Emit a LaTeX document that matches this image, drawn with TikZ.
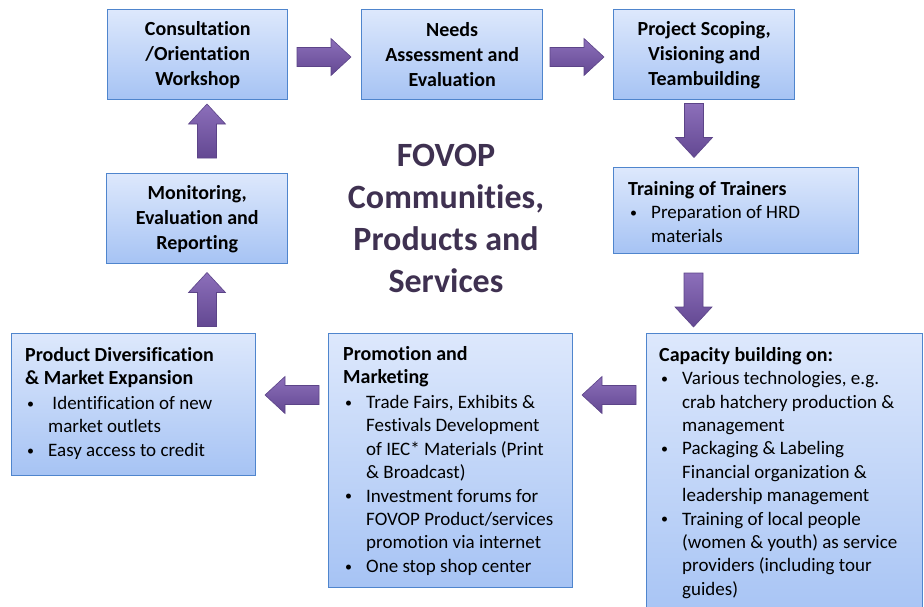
\documentclass[tikz,border=0pt]{standalone}
\usepackage{fontspec}
\setmainfont{Carlito}[Ligatures=NoCommon]
\definecolor{boxtop}{HTML}{DDE8FC}
\definecolor{boxbot}{HTML}{A6C3F4}
\definecolor{boxline}{HTML}{4F85CD}
\definecolor{arrlight}{HTML}{8C6FBA}
\definecolor{arrdark}{HTML}{634892}
\definecolor{arredge}{HTML}{5C4488}
\definecolor{titlecol}{HTML}{3F3151}
% bullet line and its continuation lines
\newcommand\bitem[1]{\makebox[23pt][l]{\hspace*{2pt}\raisebox{1.2pt}{\fontsize{14}{14}\selectfont\textbullet}}#1}
\newcommand\bcont[1]{\hspace*{23pt}#1}
\begin{document}
\begin{tikzpicture}[x=1pt,y=-1pt,
  box/.style={draw=boxline, line width=1.4pt, top color=boxtop,
    bottom color=boxbot, inner sep=0pt, anchor=north west},
  stepbox/.style={box, align=center,
    font=\bfseries\fontsize{20}{25}\selectfont},
  listtext/.style={inner sep=0pt, anchor=north west, align=left,
    font=\fontsize{19}{23.4}\selectfont},
  arrowshade/.style={top color=arrlight, bottom color=arrdark,
    draw=arredge, line width=0.6pt},
  blockarrow/.pic={
    \shade[arrowshade] (-27,-9.5) -- (7,-9.5) -- (7,-18.5) -- (27,0)
      -- (7,18.5) -- (7,9.5) -- (-27,9.5) -- cycle;
  }]
\useasboundingbox (0,0) rectangle (924,606);
\clip (0,0) rectangle (924,606);

% cycle of steps along the top
\node[stepbox, minimum width=180pt, minimum height=90pt] (b1) at (107,9)
  {Consultation\\/Orientation\\Workshop};
\node[stepbox, minimum width=181pt, minimum height=90pt] (b2) at (361,9)
  {Needs\\Assessment and\\Evaluation};
\node[stepbox, minimum width=181pt, minimum height=90pt] (b3) at (613,9)
  {Project Scoping,\\Visioning and\\Teambuilding};
\node[stepbox, minimum width=181pt, minimum height=90pt] (b8) at (106,173)
  {Monitoring,\\Evaluation and\\Reporting};

% boxes with bullet lists
\node[box, minimum width=245pt, minimum height=86pt] (b4) at (613,167) {};
\node[listtext] (t4) at ([shift={(15,13)}]b4.north west)
  {\rule{0pt}{15pt}{\bfseries\fontsize{20}{23.4}\selectfont Training of Trainers}\\
   \bitem{Preparation of HRD}\\
   \bcont{materials}};

\node[box, minimum width=276pt, minimum height=290pt] (b5) at (646,333) {};
\node[listtext] (t5) at ([shift={(13,13)}]b5.north west)
  {\rule{0pt}{15pt}{\bfseries\fontsize{20}{23.4}\selectfont Capacity building on:}\\
   \bitem{Various technologies, e.g.}\\
   \bcont{crab hatchery production \&}\\
   \bcont{management}\\
   \bitem{Packaging \& Labeling}\\
   \bcont{Financial organization \&}\\
   \bcont{leadership management}\\
   \bitem{Training of local people}\\
   \bcont{(women \& youth) as service}\\
   \bcont{providers (including tour}\\
   \bcont{guides)}};

\node[box, minimum width=244pt, minimum height=254pt] (b6) at (328,333) {};
\node[listtext] (t6) at ([shift={(15,12)}]b6.north west)
  {\rule{0pt}{15pt}{\bfseries\fontsize{20}{23.4}\selectfont Promotion and}\\
   \rule{0pt}{15pt}{\bfseries\fontsize{20}{23.4}\selectfont Marketing}\\[1.5pt]
   \bitem{Trade Fairs, Exhibits \&}\\
   \bcont{Festivals Development}\\
   \bcont{of IEC* Materials (Print}\\
   \bcont{\& Broadcast)}\\
   \bitem{Investment forums for}\\
   \bcont{FOVOP Product/services}\\
   \bcont{promotion via internet}\\
   \bitem{One stop shop center}};

\node[box, minimum width=244pt, minimum height=142pt] (b7) at (11,333) {};
\node[listtext] (t7) at ([shift={(14,13)}]b7.north west)
  {\rule{0pt}{15pt}{\bfseries\fontsize{20}{23.4}\selectfont Product Diversification}\\
   \rule{0pt}{15pt}{\bfseries\fontsize{20}{23.4}\selectfont \& Market Expansion}\\[1.5pt]
   \bitem{\ Identification of new}\\
   \bcont{market outlets}\\
   \bitem{Easy access to credit}};

% central title
\node[font=\bfseries\fontsize{34}{42}\selectfont, text=titlecol, align=center]
  (title) at (446,218) {FOVOP\\Communities,\\Products and\\Services};

% block arrows between the steps
\pic (a12) at (324,57) {blockarrow};
\pic (a23) at (577,57) {blockarrow};
\pic[rotate=-90] (a34) at (694,130.5) {blockarrow};
\pic[rotate=-90] (a45) at (693.5,300) {blockarrow};
\pic[rotate=180] (a56) at (609,395) {blockarrow};
\pic[rotate=180] (a67) at (292,395) {blockarrow};
\pic[rotate=90] (a78) at (207,299.5) {blockarrow};
\pic[rotate=90] (a81) at (207,131) {blockarrow};
\end{tikzpicture}
\end{document}
